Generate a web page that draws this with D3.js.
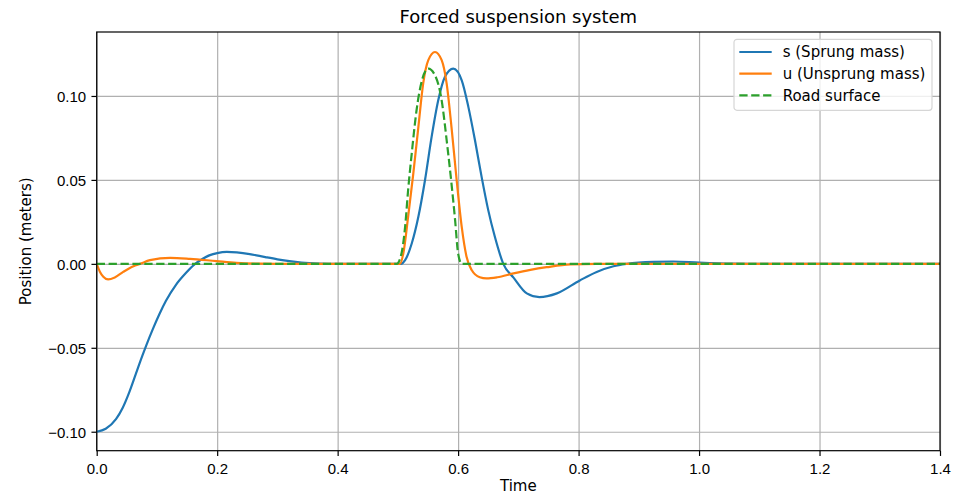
<!DOCTYPE html>
<html lang="en">
<head>
    <meta charset="UTF-8">
    <title>Forced suspension system</title>
    <script src="https://d3js.org/d3.v7.min.js"></script>
    <style>
        body { margin: 0; background: #fff; }
        svg { font-family: "DejaVu Sans", sans-serif; }
    </style>
</head>
<body>
    <svg id="chart"></svg>
    <script>
        // values
        const sprungTime = [0, 0.015, 0.032, 0.043, 0.054, 0.065, 0.076, 0.082, 0.093, 0.104, 0.115, 0.1316, 0.148,
                            0.163, 0.176, 0.188, 0.2, 0.216, 0.254, 0.28, 0.30, 0.32, 0.34, 0.37, 0.40, 0.50, 0.505,
                            0.512, 0.523, 0.534, 0.545, 0.556, 0.567, 0.578, 0.592, 0.606, 0.617, 0.628, 0.639, 0.650,
                            0.661, 0.675, 0.692, 0.714, 0.735, 0.764, 0.802, 0.830, 0.858, 0.880, 0.924, 0.957, 1.0,
                            1.056, 1.1, 1.4];
        const sprungPos = [-0.100, -0.0982, -0.0925, -0.0858, -0.0765, -0.0655, -0.0545, -0.0488, -0.0390, -0.0300,
                           -0.0220, -0.0125, -0.0055, -0.0002, 0.0030, 0.0052, 0.0064, 0.0071, 0.0058, 0.0040, 0.0027,
                           0.0016, 0.0008, 0.0002, 0.0, 0.0, 0.0, 0.0022, 0.0121, 0.028, 0.0498, 0.0756, 0.0974,
                           0.1113, 0.1163, 0.1093, 0.0935, 0.0736, 0.0518, 0.032, 0.0161, 0.0, -0.0082, -0.0176,
                           -0.0198, -0.0176, -0.0099, -0.0048, -0.0014, 0.0, 0.0012, 0.0014, 0.0007, 0.0001, 0.0, 0.0];

        const unsprungTime = [0, 0.0055, 0.011, 0.019, 0.030, 0.044, 0.061, 0.072, 0.0885, 0.122, 0.155, 0.199, 0.232,
                              0.27, 0.30, 0.50, 0.5035, 0.509, 0.517, 0.5256, 0.534, 0.542, 0.5505, 0.5616, 0.5727,
                              0.581, 0.589, 0.5976, 0.606, 0.614, 0.6225, 0.636, 0.647, 0.665, 0.692, 0.720, 0.747,
                              0.786, 0.83, 1.4];
        const unsprungPos = [0, -0.0048, -0.0077, -0.0093, -0.0081, -0.0048, -0.0014, 0.0, 0.0022, 0.0036, 0.0030,
                             0.0016, 0.0006, 0.0001, 0, 0, 0, 0.0062, 0.028, 0.0538, 0.0815, 0.1074, 0.1213, 0.1262,
                             0.1213, 0.1074, 0.0815, 0.0498, 0.022, 0.0042, -0.0037, -0.0080, -0.0087, -0.0080,
                             -0.0057, -0.0036, -0.0020, -0.0003, 0, 0];

        const roadTime = [0, 0.498, 0.506, 0.512, 0.517, 0.523, 0.531, 0.540, 0.5505, 0.5616, 0.5727, 0.581, 0.589,
                          0.595, 0.600, 0.606, 1.4];
        const roadPos = [0, 0, 0.0062, 0.022, 0.0439, 0.0657, 0.0915, 0.1093, 0.1163, 0.1123, 0.0974, 0.0736, 0.0478,
                         0.026, 0.0062, 0, 0];

        const xTicks = [0, 0.2, 0.4, 0.6, 0.8, 1.0, 1.2, 1.4];
        const yTicks = [-0.10, -0.05, 0, 0.05, 0.10];
        const seriesNames = ["s (Sprung mass)", "u (Unsprung mass)", "Road surface"];

        const W = 962, H = 495;
        const margin = { top: 32, right: 22, bottom: 44.3, left: 96.7 };
        const width = W - margin.left - margin.right;
        const height = H - margin.top - margin.bottom;

        const svg = d3.select("#chart").attr("width", W).attr("height", H);
        const g = svg.append("g").attr("transform", `translate(${margin.left},${margin.top})`);

        const x = d3.scaleLinear().domain([0, 1.4]).range([0, width]);
        const y = d3.scaleLinear().domain([-0.1113, 0.1381]).range([height, 0]);

        // grid
        g.append("g")
         .attr("transform", `translate(0,${height})`)
         .call(d3.axisBottom(x).tickValues(xTicks).tickSize(-height).tickFormat(""))
         .call(a => a.select(".domain").remove())
         .selectAll("line").attr("stroke", "#b0b0b0").attr("stroke-width", 1.2);
        g.append("g")
         .call(d3.axisLeft(y).tickValues(yTicks).tickSize(-width).tickFormat(""))
         .call(a => a.select(".domain").remove())
         .selectAll("line").attr("stroke", "#b0b0b0").attr("stroke-width", 1.2);

        const series = [
            { name: seriesNames[0], t: sprungTime, v: sprungPos, color: "#1f77b4", dash: null },
            { name: seriesNames[1], t: unsprungTime, v: unsprungPos, color: "#ff7f0e", dash: null },
            { name: seriesNames[2], t: roadTime, v: roadPos, color: "#2ca02c", dash: "8.3,3.6" }
        ];

        const line = d3.line()
                       .x(d => x(d[0]))
                       .y(d => y(d[1]))
                       .curve(d3.curveMonotoneX);

        g.append("defs").append("clipPath").attr("id", "clip")
         .append("rect").attr("width", width).attr("height", height);

        g.append("g").attr("clip-path", "url(#clip)")
         .selectAll("path")
         .data(series)
         .enter()
         .append("path")
         .attr("d", s => line(s.t.map((t, i) => [t, s.v[i]])))
         .attr("fill", "none")
         .attr("stroke", s => s.color)
         .attr("stroke-width", 2.2)
         .attr("stroke-dasharray", s => s.dash);

        // axes
        const fmtY = d => (d < 0 ? "\u2212" : "") + Math.abs(d).toFixed(2);
        const xAxis = g.append("g")
         .attr("transform", `translate(0,${height})`)
         .call(d3.axisBottom(x).tickValues(xTicks).tickSize(5.25).tickPadding(7.4).tickSizeOuter(0).tickFormat(d3.format(".1f")));
        const yAxis = g.append("g")
         .call(d3.axisLeft(y).tickValues(yTicks).tickSize(5.25).tickPadding(5.25).tickSizeOuter(0).tickFormat(fmtY));
        yAxis.selectAll("text").attr("dy", "0.37em");
        [xAxis, yAxis].forEach(a => {
            a.select(".domain").remove();
            a.selectAll("line").attr("stroke", "#000").attr("stroke-width", 1.2);
            a.selectAll("text").attr("fill", "#000").style("font-size", "15px");
        });

        // frame
        g.append("rect")
         .attr("width", width).attr("height", height)
         .attr("fill", "none").attr("stroke", "#000").attr("stroke-width", 1.2);

        // labels
        svg.append("text")
           .attr("x", margin.left + width / 2).attr("y", 22.7)
           .attr("text-anchor", "middle").style("font-size", "18px")
           .text("Forced suspension system");
        svg.append("text")
           .attr("x", margin.left + width / 2).attr("y", 491)
           .attr("text-anchor", "middle").style("font-size", "15px")
           .text("Time");
        svg.append("text")
           .attr("transform", `translate(31,${margin.top + height / 2}) rotate(-90)`)
           .attr("text-anchor", "middle").style("font-size", "15px")
           .text("Position (meters)");

        // legend
        const legend = svg.append("g").attr("transform", "translate(734,39.3)");
        legend.append("rect")
              .attr("width", 198).attr("height", 71).attr("rx", 3)
              .attr("fill", "#fff").attr("fill-opacity", 0.8)
              .attr("stroke", "#d6d6d6").attr("stroke-width", 1.2);
        const item = legend.selectAll(".item")
                           .data(series)
                           .enter()
                           .append("g")
                           .attr("class", "item")
                           .attr("transform", (_, i) => `translate(0,${12.7 + 21.7 * i})`);
        item.append("line")
            .attr("x1", 5.3).attr("x2", 37.7)
            .attr("stroke", s => s.color).attr("stroke-width", 2.2)
            .attr("stroke-dasharray", s => s.dash);
        item.append("text")
            .attr("x", 48.7).attr("dy", "0.35em")
            .style("font-size", "15px")
            .text(s => s.name);
    </script>
</body>
</html>
